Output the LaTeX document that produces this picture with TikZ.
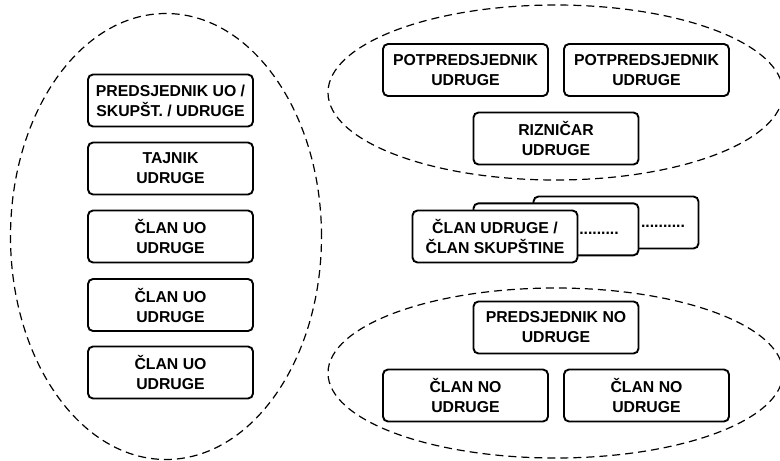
\documentclass[tikz,border=0pt]{standalone}
\usepackage{fontspec}
\setmainfont{Liberation Sans}
\begin{document}
\begin{tikzpicture}[x=1pt,y=-1pt,
  role/.style={draw, line width=1.9pt, rounded corners=5pt, fill=white,
    minimum width=165pt, minimum height=52pt, inner sep=0pt, align=center,
    font=\fontsize{15.8}{20}\selectfont\bfseries},
  dotstxt/.style={anchor=base, inner sep=0pt, font=\fontsize{15.8}{20}\selectfont\bfseries},
  group/.style={draw, line width=1.2pt, dash pattern=on 8pt off 5pt}]
\useasboundingbox (0,0) rectangle (780,461);
% groups
\draw[group] (166,236.5) ellipse [x radius=155.5pt, y radius=223pt];
\draw[group] (555.5,92.5) ellipse [x radius=227.5pt, y radius=87.5pt];
\draw[group] (555.5,373) ellipse [x radius=227.5pt, y radius=85pt];
% left column
\node[role] (pres) at (170.5,100.5) {PREDSJEDNIK UO /\\SKUPŠT. / UDRUGE};
\node[role] (taj) at (170.5,168.5) {TAJNIK\\UDRUGE};
\node[role] (uo1) at (170.5,236.5) {ČLAN UO\\UDRUGE};
\node[role] (uo2) at (170.5,305) {ČLAN UO\\UDRUGE};
\node[role] (uo3) at (170.5,372.5) {ČLAN UO\\UDRUGE};
% top right
\node[role] (pot1) at (465.5,70) {POTPREDSJEDNIK\\UDRUGE};
\node[role] (pot2) at (646.5,70) {POTPREDSJEDNIK\\UDRUGE};
\node[role] (riz) at (556,138.5) {RIZNIČAR\\UDRUGE};
% stacked members
\node[role] (back) at (616,222.5) {};
\node[dotstxt] (backdots) at (663,227.7) {..........};
\node[role] (mid) at (556,229.3) {};
\node[dotstxt] (middots) at (599,234) {.........};
\node[role] (clan) at (495,236.5) {ČLAN UDRUGE /\\ČLAN SKUPŠTINE};
% bottom right
\node[role] (pno) at (556,327.5) {PREDSJEDNIK NO\\UDRUGE};
\node[role] (no1) at (465.5,395.5) {ČLAN NO\\UDRUGE};
\node[role] (no2) at (646.5,395.5) {ČLAN NO\\UDRUGE};
\end{tikzpicture}
\end{document}
